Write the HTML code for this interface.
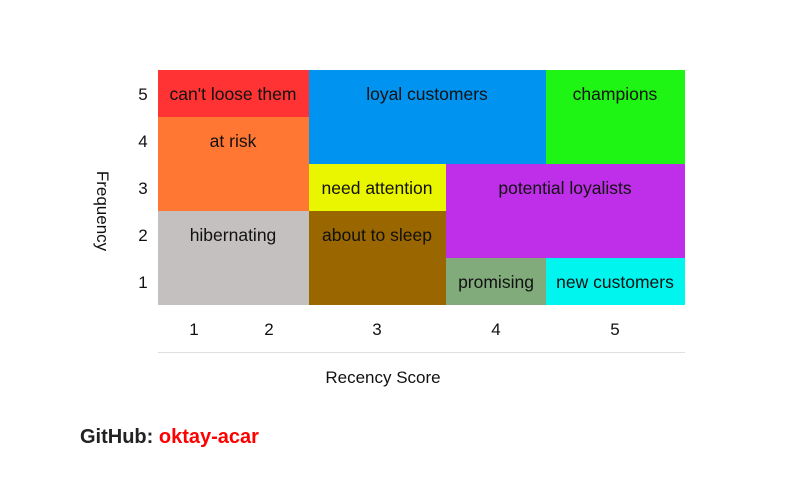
<!DOCTYPE html>
<html><head><meta charset="utf-8"><style>
html,body{margin:0;padding:0;background:#fff;}
svg{display:block;font-family:"Liberation Sans",sans-serif;}
</style></head><body>
<svg width="785" height="500" viewBox="0 0 785 500">
<g>
<rect x="158" y="70" width="151" height="47" fill="#ff3333"/>
<rect x="309" y="70" width="237" height="94" fill="#0094f0"/>
<rect x="546" y="70" width="139" height="94" fill="#1ef515"/>
<rect x="158" y="117" width="151" height="94" fill="#ff7733"/>
<rect x="309" y="164" width="137" height="47" fill="#eaf500"/>
<rect x="446" y="164" width="239" height="94" fill="#bf2ee8"/>
<rect x="158" y="211" width="151" height="94" fill="#c4c0bf"/>
<rect x="309" y="211" width="137" height="94" fill="#996600"/>
<rect x="446" y="258" width="100" height="47" fill="#82ab7c"/>
<rect x="546" y="258" width="139" height="47" fill="#00f5ee"/>
</g>
<g font-size="17.5" fill="#111" text-anchor="middle">
<text x="233" y="100">can't loose them</text>
<text x="427" y="100">loyal customers</text>
<text x="615" y="100">champions</text>
<text x="233" y="147">at risk</text>
<text x="377" y="194">need attention</text>
<text x="565" y="194">potential loyalists</text>
<text x="233" y="241">hibernating</text>
<text x="377" y="241">about to sleep</text>
<text x="496" y="288">promising</text>
<text x="615" y="288">new customers</text>
</g>
<g font-size="17" fill="#111" text-anchor="middle">
<text x="143" y="100">5</text>
<text x="143" y="147">4</text>
<text x="143" y="194">3</text>
<text x="143" y="241">2</text>
<text x="143" y="288">1</text>
<text x="194" y="335">1</text>
<text x="269" y="335">2</text>
<text x="377" y="335">3</text>
<text x="496" y="335">4</text>
<text x="615" y="335">5</text>
<text x="383" y="383">Recency Score</text>
<text transform="translate(97,211) rotate(90)" x="0" y="0">Frequency</text>
</g>
<line x1="158" y1="352.5" x2="685" y2="352.5" stroke="#e0e0e0" stroke-width="1"/>
<text x="80" y="443" font-size="20" font-weight="bold" fill="#222">GitHub: <tspan fill="#ff0000">oktay-acar</tspan></text>
</svg>
</body></html>
